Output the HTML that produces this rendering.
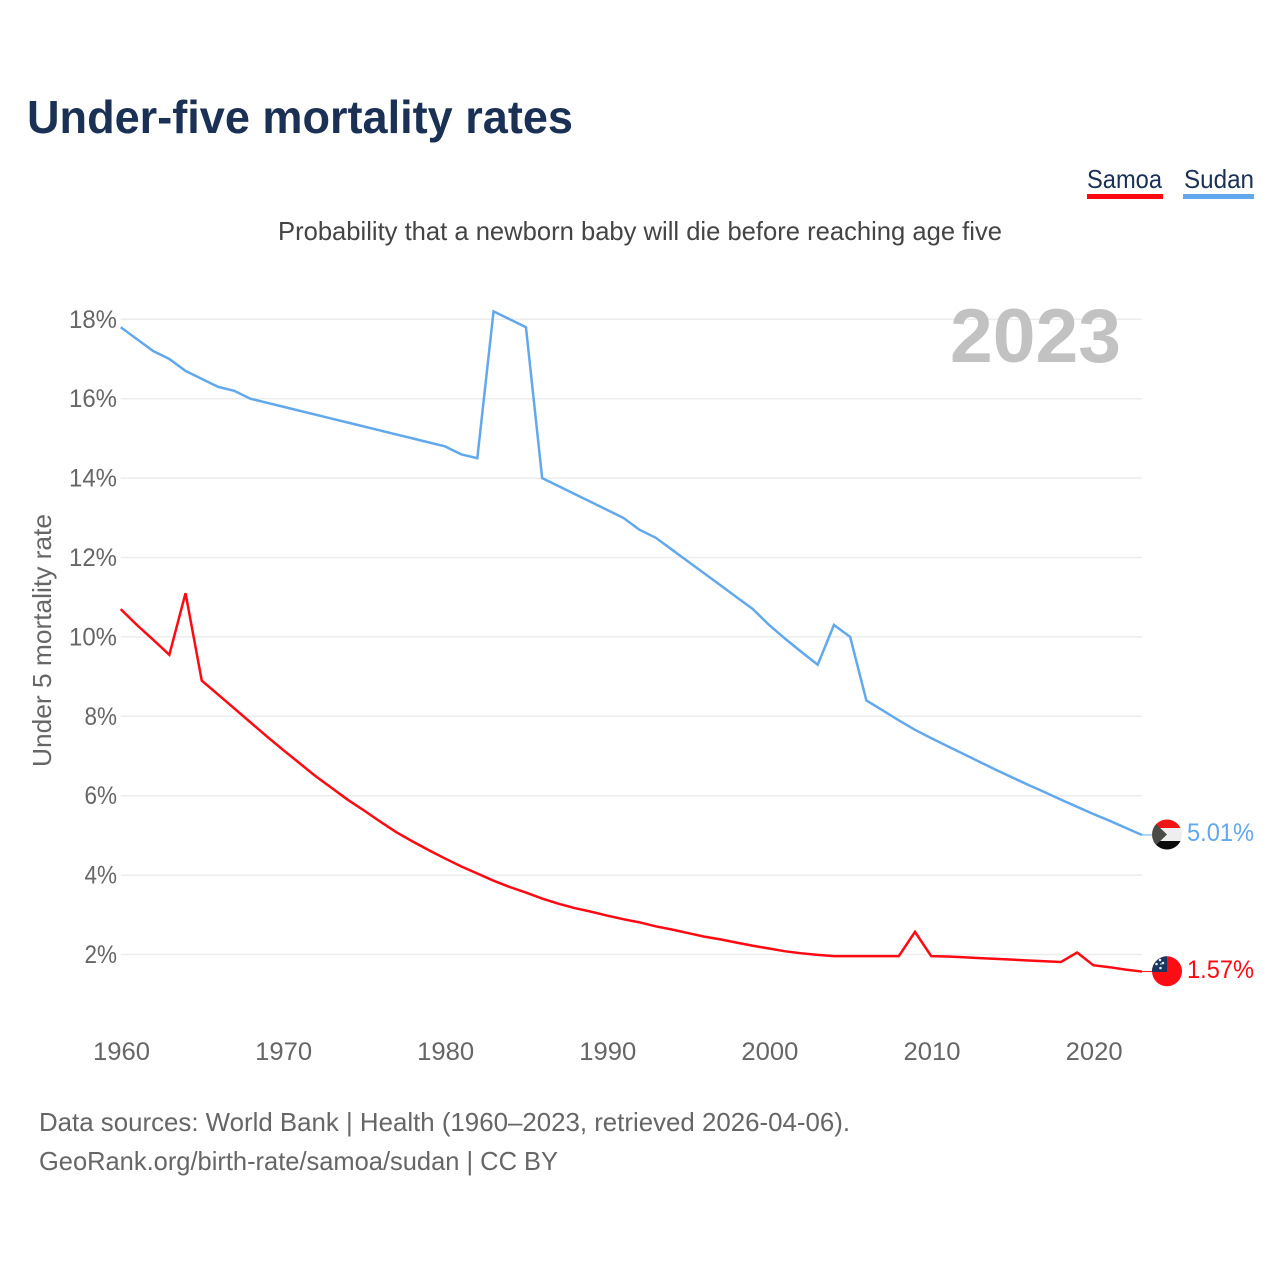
<!DOCTYPE html>
<html lang="en">
<head>
<meta charset="utf-8">
<title>Under-five mortality rates</title>
<style>
html,body{margin:0;padding:0;background:#fff;width:1280px;height:1280px;overflow:hidden}
svg{display:block}
text{font-family:"Liberation Sans",sans-serif}
</style>
</head>
<body>
<svg id="chart" width="1280" height="1280" viewBox="0 0 1280 1280" xmlns="http://www.w3.org/2000/svg">
  <defs>
    <clipPath id="clip-sudan"><circle cx="1167" cy="834.5" r="15"/></clipPath>
    <clipPath id="clip-samoa"><circle cx="1167" cy="971.3" r="15"/></clipPath>
  </defs>
  <rect width="1280" height="1280" fill="#fff"/>
  <text x="27" y="133" font-size="46" font-weight="700" fill="#1a3054" textLength="546" lengthAdjust="spacingAndGlyphs">Under-five mortality rates</text>

  <g>
    <text x="1087" y="188" font-size="26" fill="#1a3054" textLength="75" lengthAdjust="spacingAndGlyphs">Samoa</text>
    <rect x="1087" y="194" width="76" height="5" fill="#ff0a12"/>
  </g>
  <g>
    <text x="1184" y="188" font-size="26" fill="#1a3054" textLength="70" lengthAdjust="spacingAndGlyphs">Sudan</text>
    <rect x="1183" y="194" width="71" height="5" fill="#62a8ec"/>
  </g>

  <text x="278" y="240" font-size="26" fill="#444" textLength="724" lengthAdjust="spacingAndGlyphs">Probability that a newborn baby will die before reaching age five</text>
  <text transform="translate(51 767) rotate(-90)" font-size="26" fill="#666" textLength="253" lengthAdjust="spacingAndGlyphs">Under 5 mortality rate</text>

  <g id="grid"></g>
  <text x="950" y="362" font-size="76" font-weight="700" fill="#c2c2c2" textLength="171" lengthAdjust="spacingAndGlyphs">2023</text>
  <g id="yticks"></g>
  <g id="xticks"></g>
  <g id="series"></g>

  <g clip-path="url(#clip-sudan)">
    <rect x="1150" y="818" width="34" height="10" fill="#f01414"/>
    <rect x="1150" y="828" width="34" height="13" fill="#eeeeee"/>
    <rect x="1150" y="841" width="34" height="10" fill="#0c0c0c"/>
    <polygon points="1150,818 1167,834.5 1150,851" fill="#4a4c48"/>
  </g>
  <g clip-path="url(#clip-samoa)">
    <rect x="1150" y="955" width="34" height="34" fill="#fc0d14"/>
    <rect x="1150" y="955" width="17" height="17" fill="#173660"/>
    <circle cx="1160" cy="960" r="1.3" fill="#e8eef8"/>
    <circle cx="1156.500" cy="964" r="1.3" fill="#e8eef8"/>
    <circle cx="1163" cy="963" r="1.3" fill="#e8eef8"/>
    <circle cx="1160.500" cy="968" r="1.3" fill="#e8eef8"/>
    <circle cx="1161" cy="964" r="0.8" fill="#e8eef8"/>
  </g>

  <text x="39" y="1131" font-size="26" fill="#666" textLength="811" lengthAdjust="spacingAndGlyphs">Data sources: World Bank | Health (1960–2023, retrieved 2026-04-06).</text>
  <text x="39" y="1170" font-size="26" fill="#666" textLength="519" lengthAdjust="spacingAndGlyphs">GeoRank.org/birth-rate/samoa/sudan | CC BY</text>
</svg>
<script>
const startYear = 1960;
const yTickValues = [2, 4, 6, 8, 10, 12, 14, 16, 18];
const yTickLabels = ["2%", "4%", "6%", "8%", "10%", "12%", "14%", "16%", "18%"];
const xTickValues = [1960, 1970, 1980, 1990, 2000, 2010, 2020];
const xTickLabels = ["1960", "1970", "1980", "1990", "2000", "2010", "2020"];
const sudanValues = [17.8,17.5,17.2,17.0,16.7,16.5,16.3,16.2,16.0,15.9,15.8,15.7,15.6,15.5,15.4,15.3,15.2,15.1,15.0,14.9,14.8,14.6,14.5,18.2,18.0,17.8,14.0,13.8,13.6,13.4,13.2,13.0,12.7,12.5,12.2,11.9,11.6,11.3,11.0,10.7,10.3,9.95,9.62,9.3,10.3,10.0,8.4,8.15,7.9,7.66,7.45,7.25,7.05,6.85,6.65,6.46,6.27,6.09,5.9,5.72,5.54,5.37,5.19,5.01];
const samoaValues = [10.7,10.3,9.93,9.55,11.1,8.9,8.55,8.2,7.85,7.5,7.16,6.83,6.5,6.2,5.9,5.63,5.35,5.08,4.85,4.63,4.42,4.22,4.04,3.86,3.7,3.56,3.41,3.28,3.17,3.08,2.98,2.89,2.81,2.71,2.63,2.54,2.45,2.38,2.3,2.22,2.15,2.08,2.03,1.99,1.96,1.96,1.96,1.96,1.96,2.57,1.96,1.95,1.93,1.91,1.89,1.87,1.85,1.83,1.81,2.05,1.73,1.68,1.62,1.57];
const sudanLabel = "5.01%";
const samoaLabel = "1.57%";

const SVGNS = "http://www.w3.org/2000/svg";
const xScale = year => 120.7 + (year - 1960) * 16.21;
const yScale = value => 954.5 - (value - 2) * 39.7;

function widthFor(label) {
  return label.length === 2 ? 32.5 : 48;
}

const gridGroup = document.getElementById("grid");
const yTickGroup = document.getElementById("yticks");
yTickValues.forEach((value, i) => {
  const line = document.createElementNS(SVGNS, "line");
  
  
  line.setAttribute("x1", xScale(1960));
  line.setAttribute("x2", xScale(2023));
  line.setAttribute("y1", yScale(value));
  line.setAttribute("y2", yScale(value));
  line.setAttribute("stroke", "#ececec");
  line.setAttribute("stroke-width", "1.5");
  gridGroup.appendChild(line);

  const text = document.createElementNS(SVGNS, "text");
  
  
  text.setAttribute("x", 117 - widthFor(yTickLabels[i]));
  text.setAttribute("y", yScale(value) + 8.5);
  text.setAttribute("font-size", "25");
  text.setAttribute("fill", "#666");
  text.setAttribute("textLength", widthFor(yTickLabels[i]));
  text.setAttribute("lengthAdjust", "spacingAndGlyphs");
  text.textContent = yTickLabels[i];
  yTickGroup.appendChild(text);
});

const xTickGroup = document.getElementById("xticks");
xTickValues.forEach((year, i) => {
  const text = document.createElementNS(SVGNS, "text");
  
  
  text.setAttribute("x", xScale(year) - 27.7);
  text.setAttribute("y", 1060);
  text.setAttribute("font-size", "25");
  text.setAttribute("fill", "#666");
  text.setAttribute("textLength", "57");
  text.setAttribute("lengthAdjust", "spacingAndGlyphs");
  text.textContent = xTickLabels[i];
  xTickGroup.appendChild(text);
});

function pointsFor(values) {
  return values.map((value, i) => xScale(startYear + i).toFixed(2) + "," + yScale(value).toFixed(2)).join(" ");
}

const seriesGroup = document.getElementById("series");

const sudanLine = document.createElementNS(SVGNS, "polyline");


sudanLine.setAttribute("points", pointsFor(sudanValues));
sudanLine.setAttribute("fill", "none");
sudanLine.setAttribute("stroke", "#62a8ec");
sudanLine.setAttribute("stroke-width", "2.5");
sudanLine.setAttribute("stroke-linejoin", "miter");
seriesGroup.appendChild(sudanLine);

const samoaLine = document.createElementNS(SVGNS, "polyline");


samoaLine.setAttribute("points", pointsFor(samoaValues));
samoaLine.setAttribute("fill", "none");
samoaLine.setAttribute("stroke", "#ff0a12");
samoaLine.setAttribute("stroke-width", "2.5");
samoaLine.setAttribute("stroke-linejoin", "miter");
seriesGroup.appendChild(samoaLine);

const sudanConnector = document.createElementNS(SVGNS, "line");


sudanConnector.setAttribute("x1", xScale(2023));
sudanConnector.setAttribute("x2", 1152);
sudanConnector.setAttribute("y1", yScale(sudanValues[sudanValues.length - 1]));
sudanConnector.setAttribute("y2", yScale(sudanValues[sudanValues.length - 1]));
sudanConnector.setAttribute("stroke", "#62a8ec");
sudanConnector.setAttribute("stroke-width", "1");
seriesGroup.appendChild(sudanConnector);

const samoaConnector = document.createElementNS(SVGNS, "line");


samoaConnector.setAttribute("x1", xScale(2023));
samoaConnector.setAttribute("x2", 1152);
samoaConnector.setAttribute("y1", yScale(samoaValues[samoaValues.length - 1]));
samoaConnector.setAttribute("y2", yScale(samoaValues[samoaValues.length - 1]));
samoaConnector.setAttribute("stroke", "#ff0a12");
samoaConnector.setAttribute("stroke-width", "1");
seriesGroup.appendChild(samoaConnector);

const sudanValueText = document.createElementNS(SVGNS, "text");


sudanValueText.setAttribute("x", 1187);
sudanValueText.setAttribute("y", 841);
sudanValueText.setAttribute("font-size", "25");
sudanValueText.setAttribute("fill", "#62a8ec");
sudanValueText.setAttribute("textLength", "67");
sudanValueText.setAttribute("lengthAdjust", "spacingAndGlyphs");
sudanValueText.textContent = sudanLabel;
seriesGroup.appendChild(sudanValueText);

const samoaValueText = document.createElementNS(SVGNS, "text");


samoaValueText.setAttribute("x", 1187);
samoaValueText.setAttribute("y", 978);
samoaValueText.setAttribute("font-size", "25");
samoaValueText.setAttribute("fill", "#ff0a12");
samoaValueText.setAttribute("textLength", "67");
samoaValueText.setAttribute("lengthAdjust", "spacingAndGlyphs");
samoaValueText.textContent = samoaLabel;
seriesGroup.appendChild(samoaValueText);
</script>
</body>
</html>
